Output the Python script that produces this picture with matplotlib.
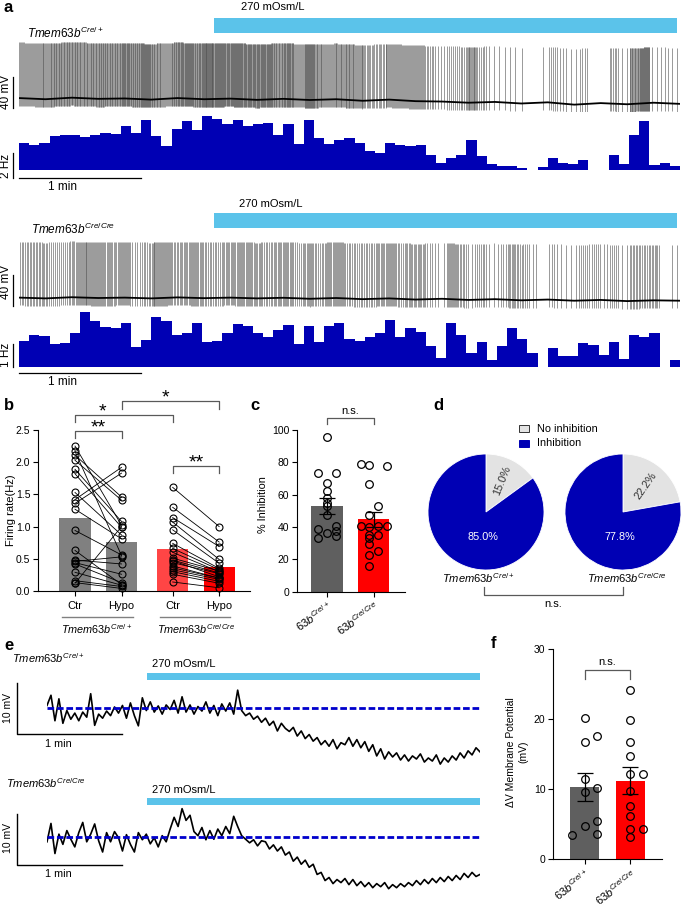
import numpy as np
import matplotlib
matplotlib.use("Agg")
import matplotlib.pyplot as plt
from matplotlib.patches import Rectangle

plt.rcParams['font.family'] = ['Liberation Sans', 'DejaVu Sans']
plt.rcParams['mathtext.fontset'] = 'custom'
plt.rcParams['mathtext.it'] = 'Liberation Sans:italic'
plt.rcParams['mathtext.rm'] = 'Liberation Sans'

# ---------------- data ----------------
# a: firing rate histograms (Hz, 5 s bins)
bin_s = 5
rate_wt = [2.2, 2.0, 2.2, 2.7, 2.8, 2.8, 2.65, 2.8, 3.0, 2.85,
           3.5, 3.0, 4.0, 2.7, 1.9, 3.3, 3.9, 3.2, 4.3, 4.1,
           3.7, 4.0, 3.5, 3.7, 3.8, 2.8, 3.7, 2.1, 4.0, 2.6,
           2.1, 2.4, 2.6, 2.2, 1.55, 1.4, 2.2, 2.0, 1.9, 2.0,
           1.2, 0.6, 1.0, 1.2, 2.4, 1.1, 0.5, 0.3, 0.35, 0.15,
           0, 0.27, 1.0, 0.6, 0.5, 0.8, 0, 0, 1.2, 0.5,
           2.8, 3.9, 0.4, 0.6, 0.3]
rate_ko = [1.15, 1.4, 1.35, 1.0, 1.05, 1.5, 2.4, 2.0, 1.74, 1.7,
           1.9, 0.87, 1.19, 2.17, 2.0, 1.4, 1.5, 1.9, 1.1, 1.15,
           1.5, 1.88, 1.8, 1.5, 1.3, 1.62, 1.84, 1.0, 1.77, 1.1,
           1.77, 1.9, 1.2, 1.15, 1.3, 1.5, 2.06, 1.3, 1.7, 1.52,
           0.9, 0.4, 1.9, 1.4, 0.6, 1.1, 0.3, 0.9, 1.7, 1.2,
           0.6, 0, 0.84, 0.5, 0.5, 1.06, 0.97, 0.54, 1.09, 0.35,
           1.38, 1.3, 1.49, 0, 0.32]
# resting baseline of the spike traces (mV, relative)
base_wt = [2.5, 1.0, 3.0, 1.5, 2.0, 0.5, 2.5, 1.0, 1.8, 0.2, 1.5, 0.0, 1.0,
           -1.0, 0.5, -1.5, -2.0, -3.5, -2.5, -4.5, -3.0, -6.0, -4.0, -5.5, -3.5, -5.0]
base_ko = [0.5, -0.5, 1.0, 0, 0.5, -0.5, 0.8, -0.2, 0.5, -0.5, 0.3, -1.0, 0,
           -1.5, -0.5, -2.0, -1.0, -2.5, -1.5, -3.0, -2.0, -3.5, -2.5, -4.0, -3.0, -3.5]
hypo_on_a = 96
rec_end_a = 325

# b: firing rate, paired Ctr / Hypo
ctr_wt = [2.25, 2.17, 2.11, 2.03, 1.89, 1.82, 1.53, 1.42, 1.36, 1.27,
          0.94, 0.63, 0.48, 0.46, 0.44, 0.42, 0.29, 0.16, 0.13, 0.12]
hypo_wt = [1.02, 0.55, 1.46, 1.41, 1.08, 0.99, 0.87, 1.92, 1.83, 0.81,
           0.56, 0.10, 0.42, 0.53, 0.26, 0.13, 0.09, 0.07, 0.04, 1.00]
ctr_ko = [1.61, 1.30, 1.14, 1.07, 0.95, 0.74, 0.66, 0.60, 0.51, 0.48,
          0.47, 0.44, 0.39, 0.36, 0.33, 0.30, 0.26, 0.14]
hypo_ko = [1.00, 0.76, 0.69, 0.49, 0.43, 0.35, 0.33, 0.30, 0.31, 0.28,
           0.22, 0.27, 0.20, 0.20, 0.18, 0.15, 0.12, 0.05]
b_means = [1.14, 0.76, 0.65, 0.38]
b_labels = ['Ctr', 'Hypo', 'Ctr', 'Hypo']

# c: % inhibition
inh_wt = [95.9, 73.4, 73.2, 67, 62.5, 57.7, 55, 53.2, 47.4, 40.8, 39, 37.5, 36.5, 34.4, 33.4]
inh_wt_col = [0, -1, 1, 0, 0, 0, 0, 0, 0, 1, -1, 1, 0, 1, -1]
inh_ko = [79, 78.6, 77.5, 66.6, 53, 47.2, 40.4, 40, 40.4, 40.4, 35.3, 35.3, 33, 29.7, 25.4, 22.9, 16]
inh_ko_col = [-1, 0, 2, 0, 1, 0, -1, 0, 1, 2, 0, 1, 0, 0, 1, 0, 0]
c_means = [53.2, 44.7]
c_sem = [5.0, 4.6]
geno_short = [r'$\mathit{63b}^{\mathit{Cre/+}}$', r'$\mathit{63b}^{\mathit{Cre/Cre}}$']

# d: proportions
pie_wt = [15.0, 85.0]
pie_ko = [22.2, 77.8]
pie_names = ['No inhibition', 'Inhibition']

# e: membrane potential traces (mV relative to baseline)
e_wt = [0.5, 2.5, -2.5, 1.8, -3.0, -0.5, -2.2, -1.0, -2.5, -0.8, -1.8,
        2.8, -3.4, -1.2, -2.0, -0.6, -1.5, 0.2, -1.0, 0.5, -2.0,
        1.0, -1.5, -3.5, 2.0, -0.5, 1.2, -0.8, 0.4, -1.2, 0.6,
        -0.3, 1.5, -1.0, 2.2, -0.8, 0.6, -1.2, 0.3, -0.6, 1.2,
        -1.0, 0.5, -1.5, 0.8, -0.6, 1.0, -1.2, 3.5, -0.5, -1.5,
        -1.0, -2.2, -1.6, -2.8, -2.0, -3.4, -2.6, -4.5, -3.0, -4.0,
        -4.6, -3.8, -5.5, -4.5, -6.0, -5.2, -6.5, -5.8, -7.2, -6.4,
        -7.5, -6.2, -8.0, -6.8, -7.2, -5.8, -7.5, -6.2, -7.8, -6.6,
        -8.5, -7.2, -9.4, -8.0, -10.0, -8.6, -9.6, -8.8, -10.2, -9.2,
        -10.4, -9.4, -10.0, -9.0, -10.6, -9.8, -10.4, -9.2, -11.0, -9.8,
        -10.6, -9.4, -10.2, -8.8, -9.8, -8.4, -9.2, -7.8, -8.6]
e_ko = [-1.0, 2.6, -3.3, 0.5, -1.5, 1.2, -0.5, -2.0, 0.8, 2.8, -1.0,
        0.5, 2.5, -0.8, -3.0, 0.8, -1.0, 1.0, -0.2, -2.8, 0.4,
        -1.5, -3.0, 0.8, -0.6, 0.5, -1.4, -0.2, -2.0, 0.2, -1.0,
        1.5, 3.8, 2.0, 5.5, 3.2, 4.2, 1.0, 0.2, 1.8, -0.6,
        1.2, -0.5, 1.5, 0.2, 2.0, 0.6, 4.0, 2.0, 0.2, -0.5,
        -1.2, -0.6, -1.8, -0.8, -1.0, -2.4, -1.6, -2.8, -2.0, -3.6,
        -3.0, -4.8, -4.0, -5.4, -4.6, -6.0, -5.4, -7.4, -7.0, -8.6,
        -8.0, -9.2, -8.4, -9.0, -8.2, -9.4, -8.4, -9.6, -8.8, -9.8,
        -9.0, -10.0, -9.2, -9.8, -9.0, -10.2, -9.4, -10.0, -9.2, -9.8,
        -9.0, -9.6, -8.6, -9.4, -8.4, -9.2, -8.2, -9.0, -8.0, -8.8,
        -7.8, -8.6, -7.6, -8.4, -7.2, -8.0, -7.0, -7.8, -7.4]
rec_end_e = 247.4
hypo_on_e = 57.1

# f: delta membrane potential
dv_wt = [20.2, 16.8, 17.6, 11.5, 9.65, 10.1, 5.4, 4.7, 3.5, 3.6]
dv_wt_col = [0, 0, 1, 0, 0, 1, 1, 0, -1, 1]
dv_ko = [24.1, 19.9, 16.8, 14.7, 12.1, 12.1, 9.75, 7.6, 6.2, 4.3, 4.3, 3.2]
dv_ko_col = [0, 0, 0, 0, 0, 1, 0, 0, 0, 0, 1, 0]
f_means = [10.3, 11.2]
f_sem = [2.0, 1.9]

# ---------------- figure ----------------
W, H = 685, 906
fig = plt.figure(figsize=(W / 100, H / 100), dpi=100)

BLUE = '#0000b4'
CYAN = '#5bc3ea'
GRAY_B = '#808080'
GRAY_D = '#5f5f5f'
RED = '#ff0000'


def px_axes(x0, y0, x1, y1):
    return fig.add_axes([x0 / W, 1 - y1 / H, (x1 - x0) / W, (y1 - y0) / H])


def spike_times(rates, w):
    ts = []
    for i, r in enumerate(rates):
        n = int(round(r * w))
        ts += [i * w + (k + 0.5) * w / n for k in range(n)]
    return np.array(ts)


def style_bar_axes(ax):
    for s in ['top', 'right']:
        ax.spines[s].set_visible(False)
    for s in ['left', 'bottom']:
        ax.spines[s].set_linewidth(0.8)
    ax.tick_params(direction='out', length=3.5, width=0.8, labelsize=7.5, pad=2)


def bracket(ax, x0, x1, y, h, txt, fs=8, color='0.35', dy=0.0, va='bottom', tx=None):
    ax.plot([x0, x0, x1, x1], [y - h, y, y, y - h], color=color, lw=0.9, clip_on=False)
    if tx is None:
        tx = (x0 + x1) / 2
    ax.text(tx, y + dy, txt, ha='center', va=va, fontsize=fs)


# ---- panel a traces ----
def spike_panel(y_top, y_base, y_hist_top, y_hist_base, hz_px, rates, base):
    ax_t = px_axes(19, y_top, 680, y_base + 12)
    mv_px = 0.775
    ax_t.set_ylim(-12 / mv_px, (y_base - y_top) / mv_px)
    ax_t.set_xlim(0, rec_end_a)
    ts = spike_times(rates, bin_s)
    tb = np.linspace(0, rec_end_a, len(base))
    b_at = np.interp(ts, tb, base)
    ax_t.vlines(ts, b_at - 10, b_at + 72, color='0.3', lw=0.4)
    ax_t.plot(tb, base, color='k', lw=1.3)
    ax_t.axis('off')
    # hypo bar
    bar_lo = (y_base - (y_top + 18)) / mv_px
    bar_hi = (y_base - (y_top + 3)) / mv_px
    ax_t.add_patch(Rectangle((hypo_on_a, bar_lo), rec_end_a - 1.5 - hypo_on_a, bar_hi - bar_lo,
                             color=CYAN, lw=0, clip_on=False))
    # 40 mV scale
    ax_t.plot([-3, -3], [-10, 30], color='k', lw=0.9, clip_on=False)
    ax_h = px_axes(19, y_hist_top, 680, y_hist_base + 2)
    ax_h.bar(np.arange(len(rates)) * bin_s, rates, width=bin_s, align='edge', color=BLUE, lw=0)
    ax_h.set_xlim(0, rec_end_a)
    ax_h.set_ylim(-2 / hz_px, (y_hist_base - y_hist_top) / hz_px)
    ax_h.axis('off')
    return ax_t, ax_h


ax_t1, ax_h1 = spike_panel(15, 100, 112, 170, 12.5, rate_wt, base_wt)
ax_h1.plot([-3, -3], [-0.64, 1.36], color='k', lw=0.9, clip_on=False)
ax_h1.plot([0, 60], [-0.64, -0.64], color='k', lw=0.9, clip_on=False)

ax_t2, ax_h2 = spike_panel(210, 298, 310, 367, 23.0, rate_ko, base_ko)
ax_h2.plot([-3, -3], [0, 1], color='k', lw=0.9, clip_on=False)
ax_h2.plot([0, 60], [-0.25, -0.25], color='k', lw=0.9, clip_on=False)

# ---- panel b ----
ax_b = px_axes(38, 430, 250, 591)
style_bar_axes(ax_b)
pos_b = [0, 1, 2.1, 3.1]
ax_b.bar(pos_b, b_means, width=0.67, color=[GRAY_B, GRAY_B, '#ff4545', RED], zorder=1)
for c, h in zip(ctr_wt, hypo_wt):
    ax_b.plot([pos_b[0], pos_b[1]], [c, h], color='k', lw=0.6, marker='o', mfc='none',
              mec='k', ms=5, mew=0.8, zorder=3, clip_on=False)
for c, h in zip(ctr_ko, hypo_ko):
    ax_b.plot([pos_b[2], pos_b[3]], [c, h], color='k', lw=0.6, marker='o', mfc='none',
              mec='k', ms=5, mew=0.8, zorder=3, clip_on=False)
ax_b.set_xlim(-0.796, 3.763)
ax_b.set_ylim(0, 2.5)
ax_b.set_yticks([0, 0.5, 1.0, 1.5, 2.0, 2.5])
ax_b.set_yticklabels(['0.0', '0.5', '1.0', '1.5', '2.0', '2.5'])
ax_b.set_xticks(pos_b)
ax_b.set_xticklabels(b_labels, fontsize=8)
ax_b.tick_params(axis='x', pad=4)
bracket(ax_b, pos_b[0], pos_b[1], 2.49, 0.11, '**', fs=14, va='baseline', dy=-0.03)
bracket(ax_b, pos_b[0], pos_b[2], 2.74, 0.12, '*', fs=14, va='baseline', dy=-0.03, tx=0.6)
bracket(ax_b, pos_b[1], pos_b[3], 2.955, 0.125, '*', fs=14, va='baseline', dy=-0.03, tx=1.95)
bracket(ax_b, pos_b[2], pos_b[3], 1.945, 0.105, '**', fs=14, va='baseline', dy=-0.03)

# ---- panel c ----
ax_c = px_axes(297, 430, 405, 591.6)
style_bar_axes(ax_c)
ax_c.bar([0, 1], c_means, width=0.67, color=[GRAY_D, RED], zorder=1)
ax_c.errorbar([0, 1], c_means, yerr=c_sem, fmt='none', ecolor='k', elinewidth=0.9,
              capsize=6, capthick=0.9, zorder=4)
ax_c.plot(np.array(inh_wt_col) * 0.2, inh_wt, 'o', mfc='none', mec='k', ms=5.5, mew=0.9, zorder=3)
ax_c.plot(1 - 0.09 + np.array(inh_ko_col) * 0.185, inh_ko, 'o', mfc='none', mec='k', ms=5.5,
          mew=0.9, zorder=3)
ax_c.set_xlim(-0.645, 1.677)
ax_c.set_ylim(0, 100)
ax_c.set_yticks([0, 20, 40, 60, 80, 100])
ax_c.set_xticks([0, 1])
ax_c.set_xticklabels(geno_short, rotation=35, ha='right', va='top', rotation_mode='anchor',
                     fontsize=8)
bracket(ax_c, 0, 1, 107.4, 3.7, 'n.s.', fs=8, dy=1.5)

# ---- panel d ----
for cx, vals in [(486, pie_wt), (623, pie_ko)]:
    axp = px_axes(cx - 58, 454, cx + 58, 570)
    axp.pie(vals, colors=['#e3e3e3', BLUE], startangle=90, counterclock=False,
            wedgeprops=dict(edgecolor='white', linewidth=0.6))
    axp.set_xlim(-1, 1)
    axp.set_ylim(-1, 1)
    ang = 90 - 360 * vals[0] / 100 / 2
    a = np.deg2rad(ang)
    axp.text(0.6 * np.cos(a), 0.6 * np.sin(a), f'{vals[0]:.1f}%', rotation=ang + 5, ha='center',
             va='center', fontsize=7.8, color='#333333', rotation_mode='anchor')
    axp.text(-0.05, -0.43, f'{vals[1]:.1f}%', ha='center', va='center', fontsize=7.8, color='white')

# ---- panel e ----
def mp_panel(y0, y1, y_dash, trace, y_bar0, y_bar1, y_sb_bot):
    ax = px_axes(47, y0, 480, y1)
    mvp = 5.1
    ax.set_ylim(-(y1 - y_dash) / mvp, (y_dash - y0) / mvp)
    ax.set_xlim(0, rec_end_e)
    t = np.linspace(0, rec_end_e, len(trace))
    ax.plot(t, trace, color='k', lw=1.2)
    ax.axhline(0, color='#0000cc', lw=2, dashes=(2.4, 1.0))
    b_lo = (y_dash - y_bar1) / mvp
    b_hi = (y_dash - y_bar0) / mvp
    ax.add_patch(Rectangle((hypo_on_e, b_lo), rec_end_e - hypo_on_e, b_hi - b_lo, color=CYAN, lw=0))
    xs = -30 / 1.75
    lo = (y_dash - y_sb_bot) / mvp
    ax.plot([xs, xs, xs + 60], [lo + 10, lo, lo], color='k', lw=1.0, clip_on=False)
    ax.axis('off')
    return ax


ax_e1 = mp_panel(660, 800, 708, e_wt, 673, 680, 734)
ax_e2 = mp_panel(788, 900, 836.7, e_ko, 798, 805, 865)

# ---- panel f ----
ax_f = px_axes(553, 649, 662, 859.3)
style_bar_axes(ax_f)
ax_f.bar([0, 1], f_means, width=0.65, color=[GRAY_D, RED], zorder=1)
ax_f.errorbar([0, 1], f_means, yerr=f_sem, fmt='none', ecolor='k', elinewidth=0.9,
              capsize=6, capthick=0.9, zorder=4)
ax_f.plot(np.array(dv_wt_col) * 0.27, dv_wt, 'o', mfc='none', mec='k', ms=5.5, mew=0.9, zorder=3)
ax_f.plot(1 + np.array(dv_ko_col) * 0.27, dv_ko, 'o', mfc='none', mec='k', ms=5.5, mew=0.9, zorder=3)
ax_f.set_xlim(-0.685, 1.685)
ax_f.set_ylim(0, 30)
ax_f.set_yticks([0, 10, 20, 30])
ax_f.set_xticks([0, 1])
ax_f.set_xticklabels(geno_short, rotation=38, ha='right', va='top', rotation_mode='anchor',
                     fontsize=8)
bracket(ax_f, 0, 1, 27.0, 1.3, 'n.s.', fs=8, dy=0.4)

# ---------------- overlay text ----------------
ov = fig.add_axes([0, 0, 1, 1])
ov.set_xlim(0, W)
ov.set_ylim(H, 0)
ov.axis('off')

tm_wt = r'$\mathit{Tmem63b}^{\mathit{Cre/+}}$'
tm_ko = r'$\mathit{Tmem63b}^{\mathit{Cre/Cre}}$'

for lab, x, y in [('a', 4, 8), ('b', 4, 405), ('c', 250, 405), ('d', 433, 405),
                  ('e', 4, 645), ('f', 491, 643)]:
    ov.text(x, y, lab, fontsize=12, fontweight='bold', ha='left', va='center')

# panel a text
ov.text(273, 7, '270 mOsm/L', fontsize=8, ha='center', va='center')
ov.text(271, 204, '270 mOsm/L', fontsize=8, ha='center', va='center')
ov.text(27, 38, tm_wt, fontsize=8.5, ha='left', va='baseline')
ov.text(31, 234, tm_ko, fontsize=8.5, ha='left', va='baseline')
ov.text(6, 92, '40 mV', fontsize=8.5, rotation=90, ha='center', va='center')
ov.text(6, 166, '2 Hz', fontsize=8.5, rotation=90, ha='center', va='center')
ov.text(63, 187, '1 min', fontsize=8.5, ha='center', va='center')
ov.text(6, 282, '40 mV', fontsize=8.5, rotation=90, ha='center', va='center')
ov.text(6, 355, '1 Hz', fontsize=8.5, rotation=90, ha='center', va='center')
ov.text(63, 382, '1 min', fontsize=8.5, ha='center', va='center')

# panel b text
ov.text(11, 510, 'Firing rate(Hz)', fontsize=8, rotation=90, ha='center', va='center')
ov.plot([62, 133], [617, 617], color=GRAY_B, lw=1.0)
ov.plot([160, 230], [617, 617], color=GRAY_B, lw=1.0)
ov.text(97, 634, tm_wt, fontsize=7.8, ha='center', va='baseline')
ov.text(196, 634, tm_ko, fontsize=7.8, ha='center', va='baseline')

# panel c text
ov.text(263, 505, '% Inhibition', fontsize=7.8, rotation=90, ha='center', va='center')

# panel d legend / labels
ov.add_patch(Rectangle((519, 425), 10, 7, facecolor='#e3e3e3', edgecolor='#333333', lw=0.7))
ov.add_patch(Rectangle((519, 440), 10, 7, facecolor=BLUE, edgecolor=BLUE, lw=0.7))
ov.text(537, 428.5, pie_names[0], fontsize=7.8, ha='left', va='center')
ov.text(537, 443.5, pie_names[1], fontsize=7.8, ha='left', va='center')
ov.text(478, 583, tm_wt, fontsize=8, ha='center', va='baseline')
ov.text(627, 583, tm_ko, fontsize=8, ha='center', va='baseline')
ov.plot([484, 484, 623, 623], [587, 595, 595, 587], color='0.35', lw=0.9)
ov.text(553, 604, 'n.s.', fontsize=8, ha='center', va='center')

# panel e text
ov.text(12, 663, tm_wt, fontsize=8, ha='left', va='baseline')
ov.text(6, 788, tm_ko, fontsize=8, ha='left', va='baseline')
ov.text(152, 664, '270 mOsm/L', fontsize=8, ha='left', va='center')
ov.text(152, 790, '270 mOsm/L', fontsize=8, ha='left', va='center')
ov.text(8, 708, '10 mV', fontsize=7.5, rotation=90, ha='center', va='center')
ov.text(8, 838, '10 mV', fontsize=7.5, rotation=90, ha='center', va='center')
ov.text(58, 744, '1 min', fontsize=7.8, ha='center', va='center')
ov.text(58, 874, '1 min', fontsize=7.8, ha='center', va='center')

# panel f text
ov.text(517, 752, 'ΔV Membrane Potential\n(mV)', fontsize=7.5, rotation=90, ha='center',
        va='center', linespacing=1.3)

fig.savefig('out.png', dpi=100)
